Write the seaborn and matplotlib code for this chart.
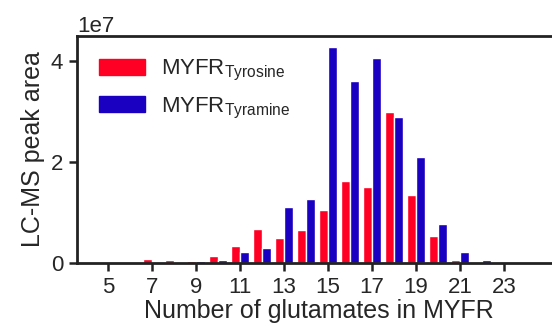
import numpy as np
import pandas as pd
import seaborn as sns
import matplotlib
matplotlib.use("Agg")
import matplotlib.pyplot as plt
from matplotlib.patches import Patch

glutamates = list(range(5, 24))
tyrosine = [0, 0, 0.7e6, 0.5e6, 0.35e6, 1.4e6, 3.4e6, 6.7e6, 5.0e6, 6.5e6,
            10.5e6, 16.2e6, 15.0e6, 29.9e6, 13.5e6, 5.3e6, 0.5e6, 0, 0]
tyramine = [0, 0, 0, 0, 0.35e6, 0.6e6, 2.2e6, 3.0e6, 11.1e6, 12.7e6,
            42.8e6, 36.0e6, 40.6e6, 28.9e6, 21.0e6, 7.7e6, 2.2e6, 0.55e6, 0]
series_names = [r"MYFR$_{\mathrm{Tyrosine}}$", r"MYFR$_{\mathrm{Tyramine}}$"]
colors = ["#ff0024", "#1a00c0"]

df = pd.DataFrame({
    "n": glutamates * 2,
    "area": tyrosine + tyramine,
    "series": [series_names[0]] * len(glutamates) + [series_names[1]] * len(glutamates),
})

sns.set_theme(style="ticks")
plt.rcParams["font.family"] = ["Liberation Sans", "DejaVu Sans"]
plt.rcParams["mathtext.fontset"] = "custom"
plt.rcParams["mathtext.rm"] = "Liberation Sans"
plt.rcParams["mathtext.it"] = "Liberation Sans:italic"

fig = plt.figure(figsize=(5.52, 3.33), dpi=100)
ax = fig.add_axes([77 / 552, 1 - 263 / 333, (561 - 77) / 552, (263 - 36) / 333])

sns.barplot(data=df, x="n", y="area", hue="series", palette=colors,
            native_scale=True, width=0.8, saturation=1, ax=ax, legend=False)

ax.set_xlim(3.59, 25.6)
ax.set_ylim(0, 4.5e7)
ax.set_xticks(range(5, 24, 2))
ax.set_yticks([0, 2e7, 4e7])
ax.ticklabel_format(axis="y", style="sci", scilimits=(0, 0))
ax.yaxis.get_offset_text().set_fontsize(16)
ax.tick_params(labelsize=16, width=1.8, length=6, color="#222222", pad=4)
for s in ax.spines.values():
    s.set_linewidth(2)
    s.set_color("#222222")
ax.set_xlabel("Number of glutamates in MYFR", fontsize=18, labelpad=1)
ax.set_ylabel("LC-MS peak area", fontsize=18, labelpad=4)

handles = [Patch(color=c) for c in colors]
ax.legend(handles, series_names, frameon=False, fontsize=16,
          loc="upper left", bbox_to_anchor=(0.0, 1.0),
          handlelength=2.05, handleheight=0.7, labelspacing=0.55, handletextpad=0.75,
          borderaxespad=0.6)

fig.savefig("out.png", dpi=100)
